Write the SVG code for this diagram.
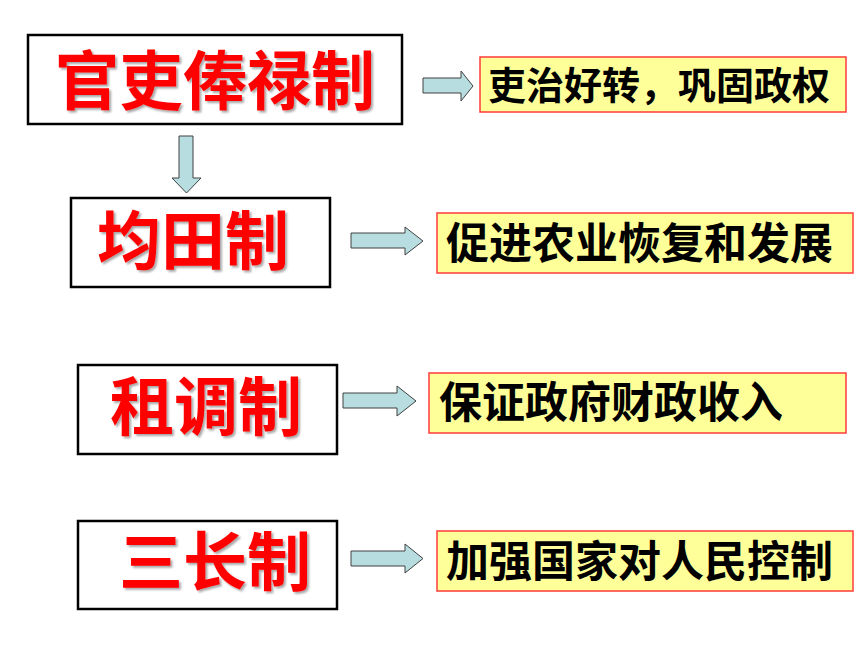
<svg xmlns="http://www.w3.org/2000/svg" width="860" height="645" viewBox="0 0 860 645">
  <style>
    .sys { fill: #ffffff; stroke: #000000; stroke-width: 2.5; }
    .res { fill: #ffff99; stroke: #ff3b3b; stroke-width: 1.5; }
    .title { font-family: "Noto Sans CJK SC", "Noto Sans", sans-serif; font-weight: bold; font-size: 64px; fill: #ff0000; filter: url(#shadow); }
    .desc { font-family: "Noto Sans CJK SC", "Noto Sans", sans-serif; font-weight: bold; font-size: 43px; fill: #000000; }
    .arrow { fill: #b7dde0; stroke: #404040; stroke-width: 1; stroke-linejoin: miter; }
  </style>
  <defs>
    <filter id="shadow" x="-10%" y="-10%" width="130%" height="130%">
      <feDropShadow dx="2" dy="2" stdDeviation="1.2" flood-color="#000000" flood-opacity="0.35"/>
    </filter>
  </defs>
  <rect width="860" height="645" fill="#ffffff"/>

  <g id="connectors">
    <polygon class="arrow" points="179,136 193,136 193,178 201,178 186.5,193 172,178 179,178"/>
    <polygon class="arrow" points="423,78 461,78 461,71 473,86 461,101 461,93 423,93"/>
    <polygon class="arrow" points="351,233 405,233 405,227 423,241 405,255 405,248 351,248"/>
    <polygon class="arrow" points="343,393 397,393 397,386 416,401 397,416 397,408 343,408"/>
    <polygon class="arrow" points="351,551 405,551 405,544 423,558.5 405,573 405,566 351,566"/>
  </g>

  <g id="node-guanli">
    <rect class="sys" x="28" y="35" width="374" height="89"/>
    <text class="title" x="55" y="104">官吏俸禄制</text>
  </g>
  <g id="node-juntian">
    <rect class="sys" x="71" y="198" width="259" height="89"/>
    <text class="title" x="97" y="264">均田制</text>
  </g>
  <g id="node-zudiao">
    <rect class="sys" x="78" y="365" width="259" height="89"/>
    <text class="title" x="110" y="430">租调制</text>
  </g>
  <g id="node-sanchang">
    <rect class="sys" x="78" y="521" width="259" height="88"/>
    <text class="title" x="119" y="585">三长制</text>
  </g>

  <g id="result-1">
    <rect class="res" x="480" y="57" width="366" height="55"/>
    <text class="desc" x="488" y="99" style="font-size:38px">吏治好转，巩固政权</text>
  </g>
  <g id="result-2">
    <rect class="res" x="437" y="213" width="416" height="60"/>
    <text class="desc" x="446" y="259">促进农业恢复和发展</text>
  </g>
  <g id="result-3">
    <rect class="res" x="429" y="373" width="417" height="60"/>
    <text class="desc" x="439" y="418">保证政府财政收入</text>
  </g>
  <g id="result-4">
    <rect class="res" x="437" y="531" width="416" height="60"/>
    <text class="desc" x="446" y="577">加强国家对人民控制</text>
  </g>
</svg>
